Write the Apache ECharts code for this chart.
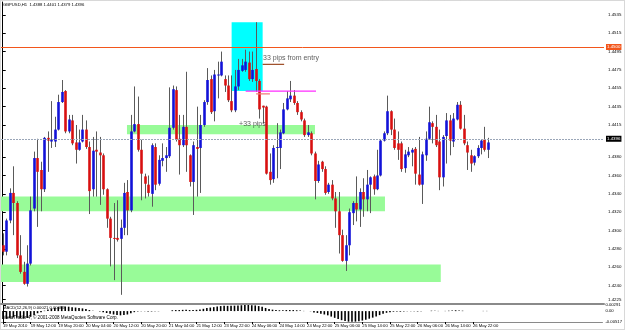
<!DOCTYPE html>
<html>
<head>
<meta charset="utf-8">
<script src="https://cdn.jsdelivr.net/npm/echarts@6/dist/echarts.min.js"></script>
<style>
  html, body { margin: 0; padding: 0; background: #fff; }
  #chart { width: 625px; height: 330px; }
</style>
</head>
<body>
<div id="chart"></div>
<script>
// GBPUSD H1, one entry per hourly bar (bar 0 = 19 May 04:00)
const opens = [
  1.4284,1.4277,1.4311,1.4341,1.4330,1.4273,1.4255,1.4242,1.4264,1.4324,
  1.4379,1.4366,1.4345,1.4401,1.4397,1.4397,1.4410,1.4440,1.4452,1.4408,
  1.4420,1.4396,1.4388,1.4397,1.4410,1.4391,1.4345,1.4388,1.4385,1.4382,
  1.4345,1.4313,1.4292,1.4292,1.4291,1.4303,1.4342,1.4322,1.4408,1.4416,
  1.4388,1.4359,1.4350,1.4340,1.4391,1.4351,1.4376,1.4379,1.4381,1.4412,
  1.4453,1.4400,1.4393,1.4413,1.4382,1.4353,1.4391,1.4390,1.4415,1.4440,
  1.4465,1.4430,1.4469,1.4469,1.4465,1.4458,1.4441,1.4431,1.4457,1.4474,
  1.4475,1.4483,1.4465,1.4476,1.4463,1.4436,1.4435,1.4364,1.4356,1.4390,
  1.4390,1.4406,1.4432,1.4443,1.4447,1.4439,1.4429,1.4420,1.4404,1.4406,
  1.4384,1.4354,1.4375,1.4367,1.4342,1.4350,1.4335,1.4321,1.4295,1.4267,
  1.4284,1.4319,1.4330,1.4323,1.4342,1.4334,1.4350,1.4359,1.4345,1.4360,
  1.4398,1.4406,1.4430,1.4410,1.4395,1.4395,1.4368,1.4382,1.4385,1.4389,
  1.4361,1.4350,1.4382,1.4400,1.4417,1.4413,1.4397,1.4358,1.4403,1.4420,
  1.4397,1.4421,1.4437,1.4411,1.4393,1.4382,1.4374,1.4381,1.4390,1.4399,
  1.4388
];
const highs = [
  1.4297,1.4313,1.4346,1.4370,1.4332,1.4295,1.4266,1.4284,1.4337,1.4386,
  1.4400,1.4375,1.4402,1.4408,1.4441,1.4424,1.4448,1.4464,1.4453,1.4426,
  1.4426,1.4415,1.4410,1.4426,1.4420,1.4397,1.4402,1.4408,1.4402,1.4384,
  1.4346,1.4315,1.4330,1.4333,1.4312,1.4352,1.4355,1.4426,1.4457,1.4446,
  1.4399,1.4362,1.4360,1.4395,1.4395,1.4382,1.4395,1.4391,1.4456,1.4458,
  1.4457,1.4426,1.4426,1.4473,1.4383,1.4397,1.4435,1.4426,1.4442,1.4477,
  1.4469,1.4475,1.4484,1.4495,1.4469,1.4469,1.4469,1.4475,1.4487,1.4487,
  1.4497,1.4495,1.4495,1.4527,1.4465,1.4436,1.4436,1.4384,1.4393,1.4417,
  1.4410,1.4439,1.4452,1.4463,1.4453,1.4441,1.4431,1.4422,1.4415,1.4408,
  1.4386,1.4376,1.4376,1.4370,1.4352,1.4355,1.4342,1.4342,1.4301,1.4295,
  1.4324,1.4332,1.4359,1.4346,1.4357,1.4366,1.4359,1.4361,1.4388,1.4399,
  1.4408,1.4447,1.4431,1.4422,1.4408,1.4397,1.4388,1.4391,1.4390,1.4391,
  1.4402,1.4386,1.4408,1.4435,1.4419,1.4426,1.4410,1.4404,1.4428,1.4426,
  1.4428,1.4440,1.4441,1.4426,1.4397,1.4388,1.4382,1.4393,1.4399,1.4413,
  1.4401
];
const lows = [
  1.4273,1.4273,1.4308,1.4295,1.4270,1.4253,1.4241,1.4239,1.4262,1.4321,
  1.4304,1.4321,1.4342,1.4364,1.4390,1.4391,1.4409,1.4439,1.4406,1.4406,
  1.4393,1.4373,1.4387,1.4396,1.4389,1.4318,1.4337,1.4337,1.4328,1.4339,
  1.4303,1.4261,1.4246,1.4288,1.4230,1.4295,1.4295,1.4320,1.4407,1.4386,
  1.4333,1.4335,1.4337,1.4326,1.4344,1.4349,1.4370,1.4364,1.4379,1.4410,
  1.4397,1.4361,1.4391,1.4364,1.4348,1.4317,1.4337,1.4341,1.4413,1.4437,
  1.4427,1.4419,1.4444,1.4468,1.4451,1.4440,1.4429,1.4429,1.4453,1.4473,
  1.4473,1.4463,1.4462,1.4451,1.4422,1.4417,1.4361,1.4350,1.4352,1.4357,
  1.4367,1.4405,1.4431,1.4440,1.4437,1.4426,1.4419,1.4402,1.4402,1.4382,
  1.4334,1.4352,1.4364,1.4339,1.4340,1.4333,1.4303,1.4275,1.4266,1.4256,
  1.4273,1.4306,1.4310,1.4304,1.4315,1.4321,1.4319,1.4339,1.4344,1.4359,
  1.4397,1.4404,1.4404,1.4388,1.4377,1.4364,1.4363,1.4380,1.4370,1.4350,
  1.4349,1.4329,1.4376,1.4399,1.4395,1.4391,1.4344,1.4348,1.4373,1.4382,
  1.4391,1.4420,1.4410,1.4393,1.4366,1.4364,1.4371,1.4379,1.4383,1.4386,
  1.4379
];
const closes = [
  1.4277,1.4311,1.4341,1.4330,1.4273,1.4255,1.4242,1.4264,1.4322,1.4379,
  1.4364,1.4345,1.4401,1.4398,1.4399,1.4410,1.4440,1.4451,1.4408,1.4421,
  1.4395,1.4388,1.4396,1.4410,1.4391,1.4343,1.4387,1.4386,1.4382,1.4345,
  1.4313,1.4292,1.4291,1.4290,1.4303,1.4341,1.4322,1.4408,1.4416,1.4388,
  1.4362,1.4351,1.4341,1.4393,1.4350,1.4377,1.4379,1.4382,1.4412,1.4454,
  1.4399,1.4393,1.4413,1.4393,1.4353,1.4393,1.4389,1.4415,1.4440,1.4464,
  1.4429,1.4470,1.4470,1.4484,1.4458,1.4442,1.4431,1.4457,1.4475,1.4480,
  1.4484,1.4465,1.4475,1.4463,1.4432,1.4434,1.4362,1.4355,1.4390,1.4391,
  1.4407,1.4432,1.4444,1.4447,1.4439,1.4429,1.4421,1.4404,1.4407,1.4384,
  1.4354,1.4372,1.4367,1.4341,1.4350,1.4335,1.4321,1.4295,1.4267,1.4284,
  1.4320,1.4330,1.4323,1.4342,1.4334,1.4350,1.4358,1.4345,1.4360,1.4398,
  1.4406,1.4430,1.4410,1.4390,1.4388,1.4367,1.4383,1.4386,1.4388,1.4362,
  1.4350,1.4383,1.4400,1.4418,1.4413,1.4393,1.4358,1.4402,1.4420,1.4398,
  1.4422,1.4437,1.4411,1.4395,1.4385,1.4373,1.4381,1.4390,1.4398,1.4388,
  1.4396
];
// MACD(12,26,9) main histogram
const macd = [
  -0.0038,-0.0037,-0.0034,-0.0030,-0.0031,-0.0033,-0.0035,-0.0033,-0.0027,-0.0018,
  -0.0010,-0.0005,0.0002,0.0008,0.0012,0.0016,0.0019,0.0022,0.0022,0.0021,
  0.0019,0.0017,0.0015,0.0013,0.0010,0.0005,0.0002,0.0000,-0.0002,-0.0005,
  -0.0009,-0.0013,-0.0016,-0.0018,-0.0020,-0.0018,-0.0016,-0.0010,-0.0005,-0.0002,
  -0.0001,-0.0001,-0.0002,-0.0002,-0.0001,-0.0001,0.0000,0.0000,0.0001,0.0004,
  0.0005,0.0005,0.0006,0.0006,0.0005,0.0005,0.0006,0.0008,0.0011,0.0015,
  0.0017,0.0019,0.0022,0.0024,0.0025,0.0025,0.0025,0.0026,0.0027,0.0028,
  0.0029,0.0029,0.0028,0.0027,0.0024,0.0021,0.0015,0.0010,0.0007,0.0005,
  0.0004,0.0004,0.0005,0.0005,0.0005,0.0004,0.0003,0.0001,0.0000,-0.0001,
  -0.0006,-0.0009,-0.0012,-0.0016,-0.0020,-0.0026,-0.0032,-0.0038,-0.0043,-0.0047,
  -0.0050,-0.0051,-0.0050,-0.0048,-0.0045,-0.0041,-0.0036,-0.0031,-0.0025,-0.0019,
  -0.0013,-0.0008,-0.0005,-0.0003,-0.0002,-0.0003,-0.0002,-0.0001,-0.0001,-0.0001,
  -0.0002,-0.0001,0.0000,0.0001,0.0002,0.0002,0.0001,0.0000,0.0001,0.0002,
  0.0003,0.0004,0.0003,0.0002,0.0001,0.0000,0.0000,0.0000,0.0000,0.0001,
  0.0001
];
// time labels, one every 8 bars
const tickLabels = [
  '19 May 2010','19 May 12:00','19 May 20:00','20 May 04:00','20 May 12:00',
  '20 May 20:00','21 May 04:00','21 May 12:00','23 May 22:00','24 May 06:00',
  '24 May 14:00','24 May 22:00','25 May 06:00','25 May 14:00','25 May 22:00',
  '26 May 06:00','26 May 14:00','26 May 22:00'
];
const priceTicks = [1.4535,1.4515,1.4495,1.4475,1.4455,1.4435,1.4415,1.4380,1.4360,
  1.4340,1.4320,1.4300,1.4280,1.4260,1.4240,1.4225];
const macdTicks = [0.00291, 0, -0.00517];
// drawn objects: [fromBar, toBar, priceA, priceB]
const greenBands = [
  [35.85, 90.1, 1.4415, 1.4405],
  [-0.5, 110.3, 1.4337, 1.4321],
  [-0.5, 126.4, 1.4263, 1.4244]
];
const cyanBox = [66.05, 75.0, 1.4527, 1.4452];
const entryLevel = 1.4500;
const bidLevel = 1.4396;
const trendLines = [
  { from: 70.1, to: 90.4, price: 1.4452, color: '#ff2cff' },
  { from: 75.0, to: 81.2, price: 1.4481, color: '#a0522d' },
  { from: 73.1, to: 77.1, price: 1.4449, color: '#f07a7a' }
];
const notes = [
  { bar: 75.1, price: 1.4488, text: '33 pips from entry' },
  { bar: 68.2, price: 1.4416, text: '+33 pips' }
];

const SLOTS = 174;
const BLUE = '#1212d8';
const RED = '#d81010';
const FONT = 'Liberation Sans';

const chart = echarts.init(document.getElementById('chart'), null, { renderer: 'canvas' });

const candleData = opens.map((o, i) => [i, o, closes[i], lows[i], highs[i]]);
const macdData = macd.map((v, i) => [i, v]);
const timeTicks = tickLabels.map((t, k) => k * 8);

const renderCandle = (params, api) => {
  const i = api.value(0);
  const o = api.value(1);
  const c = api.value(2);
  const hi = api.coord([i, api.value(4)]);
  const lo = api.coord([i, api.value(3)]);
  const top = api.coord([i, Math.max(o, c)]);
  const bot = api.coord([i, Math.min(o, c)]);
  const w = api.size([1, 0])[0] * 0.75;
  const x = Math.round(hi[0]) + 0.5;
  return {
    type: 'group',
    children: [
      { type: 'line', shape: { x1: x, y1: hi[1], x2: x, y2: lo[1] },
        style: { stroke: '#5a5a5a', lineWidth: 1 } },
      { type: 'rect',
        shape: { x: x - w / 2, y: top[1], width: w, height: Math.max(1, bot[1] - top[1]) },
        style: { fill: c >= o ? BLUE : RED } }
    ]
  };
};

const segmentSeries = trendLines.map(t => ({
  type: 'line',
  xAxisIndex: 0, yAxisIndex: 0,
  data: [[t.from, t.price], [t.to, t.price]],
  symbol: 'none',
  lineStyle: { color: t.color, width: 1.2 },
  z: 3,
  silent: true
}));

const option = {
  animation: false,
  backgroundColor: '#fff',
  textStyle: { fontFamily: FONT },
  grid: [
    { left: 1, right: 21, top: 2, height: 302 },
    { left: 1, right: 21, top: 305, height: 17 }
  ],
  xAxis: [
    { type: 'value', gridIndex: 0, min: -0.5, max: SLOTS - 0.5,
      axisLine: { show: true, onZero: false, lineStyle: { color: '#8a8a8a', width: 2 } },
      axisTick: { show: false }, axisLabel: { show: false }, splitLine: { show: false } },
    { type: 'value', gridIndex: 1, min: -0.5, max: SLOTS - 0.5,
      axisLine: { show: true, onZero: false, lineStyle: { color: '#8a8a8a', width: 1 } },
      axisTick: { show: true, length: 2, lineStyle: { color: '#000' }, customValues: timeTicks },
      axisLabel: { show: true, fontSize: 4.2, color: '#000', margin: 2, align: 'left',
        showMinLabel: true, showMaxLabel: true, hideOverlap: false,
        customValues: timeTicks,
        formatter: v => tickLabels[Math.round(v / 8)] },
      splitLine: { show: false } }
  ],
  yAxis: [
    { type: 'value', gridIndex: 0, position: 'right', min: 1.4220, max: 1.4549,
      axisLine: { show: true, lineStyle: { color: '#000' } },
      axisTick: { show: true, length: 3, lineStyle: { color: '#000' }, customValues: priceTicks },
      axisLabel: { fontSize: 4.4, color: '#000', margin: 4, customValues: priceTicks,
        showMinLabel: true, showMaxLabel: true, formatter: v => v.toFixed(4) },
      splitLine: { show: false } },
    { type: 'value', gridIndex: 1, position: 'right', min: -0.00517, max: 0.00291,
      axisLine: { show: true, lineStyle: { color: '#000' } },
      axisTick: { show: true, length: 3, lineStyle: { color: '#000' }, customValues: macdTicks },
      axisLabel: { fontSize: 4.2, color: '#000', margin: 3, customValues: macdTicks,
        showMinLabel: true, showMaxLabel: true,
        formatter: v => (v === 0 ? '0.00' : v.toFixed(5)) },
      splitLine: { show: false } }
  ],
  series: [
    {
      name: 'zones',
      type: 'line',
      xAxisIndex: 0, yAxisIndex: 0,
      data: [],
      silent: true,
      markArea: {
        silent: true,
        data: greenBands.map(b => [
          { xAxis: b[0], yAxis: b[2], itemStyle: { color: '#98fb98', opacity: 1 } },
          { xAxis: b[1], yAxis: b[3] }
        ]).concat([[
          { xAxis: cyanBox[0], yAxis: cyanBox[2], itemStyle: { color: '#00ffff', opacity: 1 } },
          { xAxis: cyanBox[1], yAxis: cyanBox[3] }
        ]])
      },
      markLine: {
        silent: true,
        symbol: 'none',
        data: [
          { yAxis: entryLevel, lineStyle: { color: '#f2561c', width: 1, type: 'solid' },
            label: { show: true, position: 'end', distance: 2, formatter: entryLevel.toFixed(4),
              color: '#fff', backgroundColor: '#f2561c', fontSize: 4.4, padding: [1, 1] } },
          { yAxis: bidLevel, lineStyle: { color: '#9aa6b8', width: 1, type: [2, 1] },
            label: { show: true, position: 'end', distance: 2, formatter: bidLevel.toFixed(4),
              color: '#fff', backgroundColor: '#000', fontSize: 4.4, padding: [1, 1] } }
        ]
      }
    },
    ...segmentSeries,
    {
      name: 'GBPUSD',
      type: 'custom',
      xAxisIndex: 0, yAxisIndex: 0,
      renderItem: renderCandle,
      data: candleData,
      encode: { x: 0, y: [1, 2, 3, 4] },
      z: 2,
      silent: true
    },
    {
      name: 'notes',
      type: 'scatter',
      xAxisIndex: 0, yAxisIndex: 0,
      symbolSize: 0,
      data: notes.map(n => ({ value: [n.bar, n.price], name: n.text })),
      label: { show: true, position: 'right', distance: 0, formatter: p => p.name,
        fontSize: 7, color: '#333', fontFamily: FONT },
      silent: true
    },
    {
      name: 'MACD',
      type: 'bar',
      xAxisIndex: 1, yAxisIndex: 1,
      data: macdData,
      barWidth: 1.6,
      itemStyle: { color: '#000' },
      silent: true
    }
  ],
  graphic: [
    { type: 'rect', shape: { x: 0.5, y: 0.5, width: 624, height: 329 },
      style: { fill: null, stroke: '#b0b0b0', lineWidth: 1, lineDash: [1, 1] }, silent: true },
    { type: 'text', left: 3, top: 3,
      style: { text: 'GBPUSD,H1  1.4388 1.4401 1.4379 1.4396', fontSize: 4.2, fill: '#000', fontFamily: FONT } },
    { type: 'text', left: 3, top: 306,
      style: { text: 'MACD(12,26,9) 0.00021 0.00089', fontSize: 4.2, fill: '#000', fontFamily: FONT } },
    { type: 'text', left: 3, top: 315,
      style: { text: 'MetaTrader 4, \u00a9 2001-2008 MetaQuotes Software Corp.', fontSize: 4.6, fill: '#000', fontFamily: FONT } }
  ]
};

chart.setOption(option);
</script>
</body>
</html>
